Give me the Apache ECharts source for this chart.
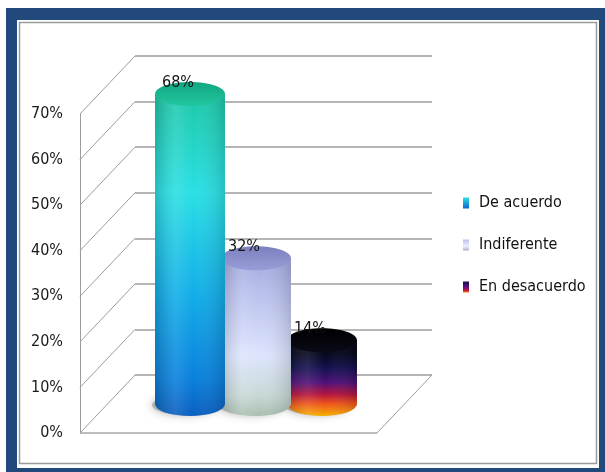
<!DOCTYPE html>
<html>
<head>
<meta charset="utf-8">
<script src="https://cdn.jsdelivr.net/npm/echarts@6/dist/echarts.min.js"></script>
<style>
  html, body { margin: 0; padding: 0; background: #ffffff; }
  #chart { width: 605px; height: 472px; }
</style>
</head>
<body>
<div id="chart"></div>
<script>
// Survey answers, one series per answer
const categories = [''];
const seriesNames = ['De acuerdo', 'Indiferente', 'En desacuerdo'];
const seriesValues = [68, 32, 14];
const axisTicks = [0, 10, 20, 30, 40, 50, 60, 70];

const FONT = '"DejaVu Sans Condensed", "Liberation Sans Narrow", sans-serif';
const FONT_SIZE = 16;

// Back wall and front plane of the pseudo-3D box
const BACK = { left: 135, top: 56, width: 297, height: 319 };
const FRONT = { left: 80, top: 114, width: 297, height: 319 };
const DEPTH = [FRONT.left - BACK.left, FRONT.top - BACK.top];

const LG = (x0, y0, x1, y1, stops, global) =>
  new echarts.graphic.LinearGradient(x0, y0, x1, y1,
    stops.map(s => ({ offset: s[0], color: s[1] })), global);

// Cylinder colouring
const palettes = [
  {
    top: [[0, '#12a682'], [1, '#21c6a0']],
    body: [[0, '#1cc6a0'], [0.33, '#2adfe4'], [0.64, '#12ade8'], [0.89, '#0a80dc'], [1, '#0a5fbf']],
    icon: [[0, '#2adfe4'], [1, '#0a66cc']]
  },
  {
    top: [[0, '#7c80c0'], [1, '#999dd6']],
    body: [[0, '#9ca0d8'], [0.26, '#b8bfec'], [0.65, '#dde5fe'], [0.88, '#c8d8d6'], [1, '#a9bfb0']],
    icon: [[0, '#b8bfec'], [0.6, '#eef2ff'], [1, '#aab0d0']]
  },
  {
    top: [[0, '#000000'], [1, '#0a0a18']],
    body: [[0, '#030308'], [0.3, '#06061e'], [0.45, '#12104e'], [0.62, '#4e1078'], [0.75, '#b0123e'], [0.86, '#ee5418'], [1, '#f6b000']],
    icon: [[0, '#101050'], [0.5, '#5e1080'], [0.8, '#c0143e'], [1, '#f08010']]
  }
];

function wallItem(params, api) {
  const v = api.value(1);
  const p = api.coord([0, v]);
  const half = api.size([1, 0])[0] / 2;
  const l = p[0] - half, r = p[0] + half, y = p[1];
  const children = [{
    type: 'line',
    shape: { x1: l + DEPTH[0], y1: y + DEPTH[1], x2: l, y2: y },
    style: { stroke: '#9c9c9c', lineWidth: 1 }
  }];
  if (v === 0) {
    children.push({
      type: 'line',
      shape: { x1: l + DEPTH[0], y1: y + DEPTH[1], x2: r + DEPTH[0], y2: y + DEPTH[1] },
      style: { stroke: '#a8a8a8', lineWidth: 1.6 }
    });
    children.push({
      type: 'line',
      shape: { x1: r + DEPTH[0], y1: y + DEPTH[1], x2: r, y2: y },
      style: { stroke: '#9c9c9c', lineWidth: 1 }
    });
  }
  return { type: 'group', children };
}

function cylinderItem(i) {
  const pal = palettes[i];
  return function (params, api) {
    const band = api.size([1, 0])[0];
    const slot = band / 4.5;
    const val = api.value(1);
    const base = api.coord([api.value(0), 0]);
    const top = api.coord([api.value(0), val]);
    const cx = base[0] + (i - 1) * slot + DEPTH[0] / 2;
    const yBot = base[1] + DEPTH[1] / 2;
    const yTop = top[1] + DEPTH[1] / 2;
    const rx = slot * 0.53, ry = 12;
    const l = cx - rx, r = cx + rx;
    const bodyPath = `M${l},${yTop} L${l},${yBot} A${rx},${ry} 0 0 0 ${r},${yBot} L${r},${yTop} Z`;
    return {
      type: 'group',
      children: [
        {
          type: 'ellipse',
          shape: { cx: cx - 5, cy: yBot + 1, rx: rx - 2, ry: ry - 2 },
          style: { fill: 'rgba(140,140,140,0.55)', shadowBlur: 8, shadowColor: 'rgba(0,0,0,0.55)' }
        },
        {
          type: 'path',
          shape: { pathData: bodyPath },
          style: { fill: LG(0, yTop - ry, 0, yBot + ry, pal.body, true) }
        },
        {
          type: 'path',
          shape: { pathData: bodyPath },
          style: {
            fill: LG(l, 0, r, 0, [
              [0, 'rgba(0,0,0,0.16)'], [0.3, 'rgba(255,255,255,0.10)'],
              [0.55, 'rgba(255,255,255,0)'], [1, 'rgba(0,0,0,0.14)']
            ], true)
          }
        },
        {
          type: 'ellipse',
          shape: { cx: cx, cy: yTop, rx: rx, ry: ry },
          style: { fill: LG(0, yTop - ry, 0, yTop + ry, pal.top, true) }
        },
        {
          type: 'text',
          x: cx - 12,
          y: yTop - 11,
          z2: 50,
          style: {
            text: val + '%', fill: '#141414', font: FONT_SIZE + 'px ' + FONT,
            align: 'center', verticalAlign: 'middle'
          }
        }
      ]
    };
  };
}

const cylinderSeries = seriesNames.map((name, i) => ({
  type: 'custom',
  name: name,
  xAxisIndex: 0,
  yAxisIndex: 0,
  z: 5 - i,
  itemStyle: { color: LG(0, 0, 0, 1, palettes[i].icon, false) },
  renderItem: cylinderItem(i),
  data: [[0, seriesValues[i]]]
}));

const chart = echarts.init(document.getElementById('chart'), null, { renderer: 'canvas' });
chart.setOption({
  animation: false,
  backgroundColor: '#ffffff',
  graphic: [
    { type: 'rect', z: -10, silent: true, shape: { x: 6, y: 8, width: 610, height: 470 }, style: { fill: '#21497c' } },
    { type: 'rect', z: -9, silent: true, shape: { x: 17, y: 20, width: 582, height: 448 }, style: { fill: '#ffffff' } },
    { type: 'rect', z: -8, silent: true, shape: { x: 19.5, y: 22.5, width: 577, height: 441 }, style: { fill: 'none', stroke: '#9a9a9a', lineWidth: 1.5 } }
  ],
  grid: [
    { left: BACK.left, top: BACK.top, width: BACK.width, height: BACK.height },
    { left: FRONT.left, top: FRONT.top, width: FRONT.width, height: FRONT.height }
  ],
  xAxis: [
    { gridIndex: 0, type: 'category', data: categories, show: false },
    { gridIndex: 1, type: 'category', data: categories, show: false }
  ],
  yAxis: [
    {
      gridIndex: 0, type: 'value', min: 0, max: 70, interval: 10,
      axisLine: { show: false }, axisTick: { show: false }, axisLabel: { show: false },
      splitLine: { show: true, lineStyle: { color: '#b5b5b5', width: 1.8 } }
    },
    {
      gridIndex: 1, type: 'value', min: 0, max: 70, interval: 10,
      axisLine: { show: true, onZero: false, lineStyle: { color: '#9c9c9c', width: 1 } },
      axisTick: { show: false },
      splitLine: { show: false },
      axisLabel: {
        formatter: '{value}%', margin: 17,
        fontFamily: FONT, fontSize: FONT_SIZE, color: '#1a1a1a'
      }
    }
  ],
  legend: {
    data: seriesNames,
    orient: 'vertical',
    left: 463,
    top: 193,
    padding: 0,
    itemGap: 22,
    itemWidth: 6,
    itemHeight: 11,
    icon: 'rect',
    textStyle: { fontFamily: FONT, fontSize: FONT_SIZE, color: '#111111', lineHeight: 20, padding: [0, 0, 0, 5] }
  },
  series: [
    {
      type: 'custom',
      xAxisIndex: 0,
      yAxisIndex: 0,
      z: 1,
      silent: true,
      renderItem: wallItem,
      data: axisTicks.map(v => [0, v])
    }
  ].concat(cylinderSeries)
});
</script>
</body>
</html>
